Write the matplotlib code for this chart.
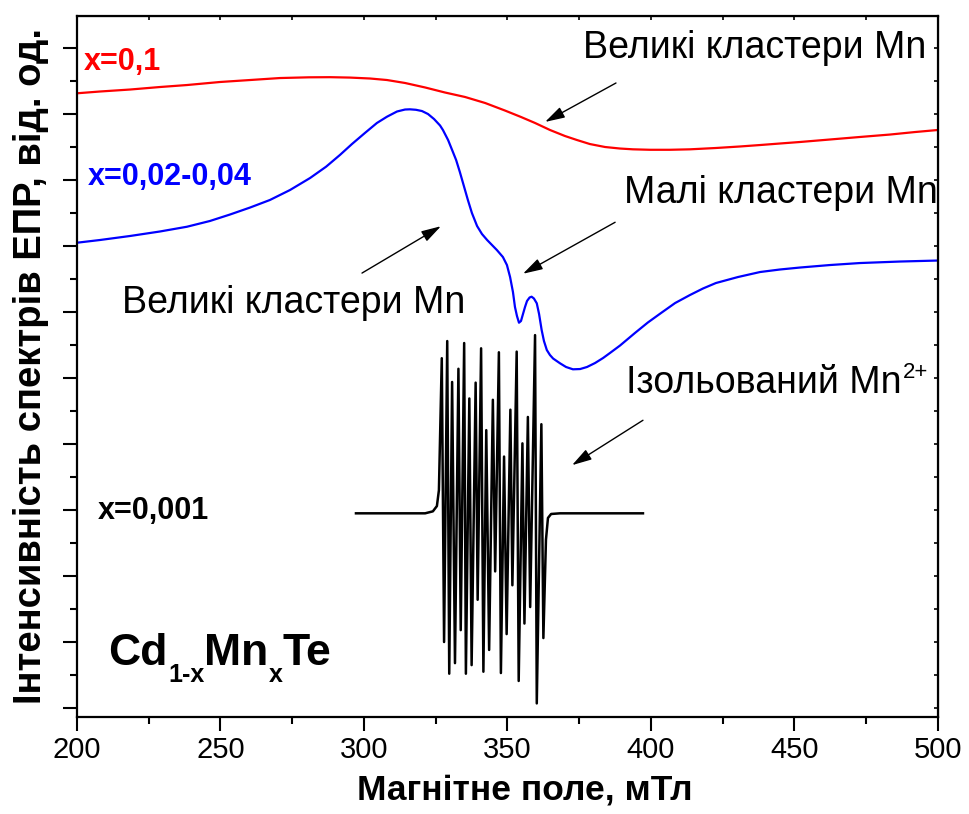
import numpy as np
import matplotlib
matplotlib.use("Agg")
import matplotlib.pyplot as plt
from matplotlib.ticker import MultipleLocator

plt.rcParams['font.family'] = ['Liberation Sans', 'DejaVu Sans']

# x = 0,1 : broad line of large clusters
field_red = [200.0, 208.0, 218.5, 228.9, 238.3, 249.8, 260.3, 270.7, 280.8, 288.2,
             295.1, 302.1, 308.0, 314.3, 321.3, 328.2, 335.2, 342.2, 349.1, 354.7,
             359.6, 364.8, 370.0, 374.2, 378.7, 384.0, 389.2, 393.7, 399.7, 406.6,
             413.6, 422.6, 431.0, 438.0, 444.9, 451.9, 462.4, 472.8, 483.3, 492.0,
             500.0]
epr_red = [9.314, 9.341, 9.371, 9.409, 9.439, 9.485, 9.515, 9.545, 9.556, 9.558,
           9.552, 9.538, 9.515, 9.470, 9.402, 9.326, 9.258, 9.167, 9.053, 8.955,
           8.864, 8.758, 8.667, 8.606, 8.545, 8.500, 8.477, 8.465, 8.458, 8.458,
           8.465, 8.485, 8.508, 8.530, 8.553, 8.576, 8.614, 8.652, 8.689, 8.727,
           8.758]

# x = 0,02-0,04 : large + small clusters
field_blue = [200.0, 208.0, 218.5, 228.9, 238.3, 246.3, 253.3, 260.3, 267.2, 274.2,
              281.2, 286.8, 291.6, 295.8, 300.3, 304.5, 308.0, 311.5, 314.3, 316.0,
              318.1, 320.2, 322.3, 324.4, 326.5, 327.5, 329.3, 330.7, 332.1, 333.4,
              334.8, 336.2, 337.6, 339.4, 341.1, 342.9, 344.6, 346.3, 348.4, 349.8,
              350.9, 351.9, 352.6, 353.3, 354.0, 354.7, 355.4, 356.1, 356.8, 357.7,
              358.4, 359.2, 360.2, 361.0, 361.9, 362.7, 363.7, 364.8, 365.9, 368.3,
              370.4, 372.8, 375.3, 377.7, 380.5, 383.3, 385.7, 389.2, 394.4, 398.9,
              403.5, 408.4, 413.6, 418.1, 422.6, 430.3, 438.0, 444.9, 451.9, 462.4,
              472.8, 486.8, 500.0]
epr_blue = [7.050, 7.091, 7.152, 7.220, 7.292, 7.379, 7.477, 7.583, 7.697, 7.848,
            8.030, 8.202, 8.379, 8.545, 8.712, 8.864, 8.959, 9.038, 9.068, 9.071,
            9.064, 9.045, 9.000, 8.924, 8.826, 8.758, 8.606, 8.455, 8.303, 8.121,
            7.909, 7.697, 7.500, 7.303, 7.182, 7.091, 7.015, 6.939, 6.833, 6.712,
            6.530, 6.303, 6.076, 5.939, 5.838, 5.864, 5.970, 6.076, 6.167, 6.220,
            6.232, 6.205, 6.132, 5.970, 5.727, 5.561, 5.424, 5.348, 5.295, 5.223,
            5.167, 5.132, 5.136, 5.167, 5.227, 5.303, 5.379, 5.492, 5.682, 5.841,
            5.985, 6.136, 6.258, 6.356, 6.439, 6.530, 6.606, 6.644, 6.674, 6.712,
            6.742, 6.765, 6.780]

# x = 0,001 : isolated Mn2+ hyperfine lines
field_black = [297.2, 312.5, 321.3, 324.0, 325.4, 326.1,
               327.1, 327.9, 329.0, 329.7, 330.7, 331.7, 332.9, 333.7, 334.9, 335.5,
               336.7, 337.5, 338.9, 339.6, 340.8, 341.6, 342.6, 343.6, 344.9, 345.7,
               347.0, 347.7, 348.8, 349.7, 351.0, 351.7, 353.2, 353.9, 355.2, 355.9,
               357.1, 357.9, 359.6, 360.2, 361.8, 362.5,
               363.4, 364.1, 365.2, 368.3, 397.2]
epr_black = [2.95, 2.95, 2.95, 2.98, 3.06, 3.30,
             5.30, 1.00, 5.56, 0.52, 4.94, 0.68, 5.14, 1.18, 5.53, 0.52,
             4.69, 0.65, 4.93, 1.64, 5.45, 0.55, 4.21, 0.88, 4.67, 2.07,
             5.39, 0.53, 3.81, 1.12, 4.52, 1.86, 5.40, 0.41, 4.01, 1.28,
             4.41, 1.53, 5.65, 0.07, 4.30, 1.06,
             2.55, 2.88, 2.94, 2.95, 2.95]

fig = plt.figure(figsize=(9.69, 8.14), dpi=100)
ax = fig.add_axes([77 / 969, 1 - 717 / 814, 861 / 969, 701 / 814])

ax.plot(field_red, epr_red, color='red', lw=1.6)
ax.plot(field_blue, epr_blue, color='blue', lw=1.6)
ax.plot(field_black, epr_black, color='black', lw=1.8)

ax.set_xlim(200, 500)
ax.set_ylim(-0.136, 10.485)

ax.xaxis.set_major_locator(MultipleLocator(50))
ax.xaxis.set_minor_locator(MultipleLocator(25))
ax.yaxis.set_major_locator(MultipleLocator(1))
ax.yaxis.set_minor_locator(MultipleLocator(0.5))
ax.tick_params(which='major', direction='out', length=10, width=1.5, labelsize=21)
ax.tick_params(which='minor', direction='out', length=5, width=1.5)
ax.tick_params(axis='y', labelleft=False)
for s in ax.spines.values():
    s.set_linewidth(1.6)

# small inward ticks on top and right frame
top = ax.secondary_xaxis('top')
top.xaxis.set_major_locator(MultipleLocator(25))
top.tick_params(direction='in', length=3, width=1.2, labeltop=False)
right = ax.secondary_yaxis('right')
right.yaxis.set_major_locator(MultipleLocator(0.5))
right.tick_params(direction='in', length=3, width=1.2, labelright=False)

ax.set_xlabel('Магнітне поле, мТл', fontsize=25.5, fontweight='bold')
ax.xaxis.set_label_coords(0.52, -0.081)
ax.set_ylabel('Інтенсивність спектрів ЕПР, від. од.', fontsize=27.5, fontweight='bold')
ax.yaxis.set_label_coords(-0.032, 0.5)

ax.text(202.4, 9.79, 'x=0,1', color='red', fontsize=22, fontweight='bold', va='center')
ax.text(203.8, 8.05, 'x=0,02-0,04', color='blue', fontsize=22, fontweight='bold', va='center')
ax.text(207.3, 2.98, 'x=0,001', color='black', fontsize=22, fontweight='bold', va='center')

# Cd(1-x)Mn(x)Te built from pieces so subscripts sit low like in the paper
bold = dict(fontweight='bold', ha='left', va='bottom')
cd = ax.text(211.0, 0.652, 'Cd', fontsize=32, fontweight='bold', va='baseline')
s1 = ax.annotate('1-x', xy=(1, 0), xycoords=cd, xytext=(0, -9.5),
                 textcoords='offset points', fontsize=18, **bold)
mn = ax.annotate('Mn', xy=(1, 0), xycoords=(s1, cd), fontsize=32, **bold)
s2 = ax.annotate('x', xy=(1, 0), xycoords=(mn, s1), fontsize=18, **bold)
ax.annotate('Te', xy=(1, 0), xycoords=(s2, cd), fontsize=32, **bold)

ax.text(376.3, 10.0, 'Великі кластери Mn', fontsize=27, va='center')
ax.text(390.6, 7.80, 'Малі кластери Mn', fontsize=27, va='center')
ax.text(215.7, 6.14, 'Великі кластери Mn', fontsize=27, va='center')
iso = ax.text(391.3, 4.92, 'Ізольований Mn', fontsize=27, va='center')
ax.annotate('2+', xy=(1, 0), xycoords=iso, xytext=(1, 13), textcoords='offset points',
            fontsize=16, ha='left', va='bottom')

arrows = [((387.8, 9.47), (363.1, 8.88)),
          ((299.3, 6.59), (326.8, 7.30)),
          ((387.5, 7.36), (355.4, 6.58)),
          ((397.2, 4.36), (372.5, 3.68))]
for tail, head in arrows:
    ax.annotate('', xy=head, xytext=tail,
                arrowprops=dict(arrowstyle='-|>,head_length=1.2,head_width=0.35',
                                color='black', lw=1.0, shrinkA=0, shrinkB=0))

fig.savefig('out.png', dpi=100)
